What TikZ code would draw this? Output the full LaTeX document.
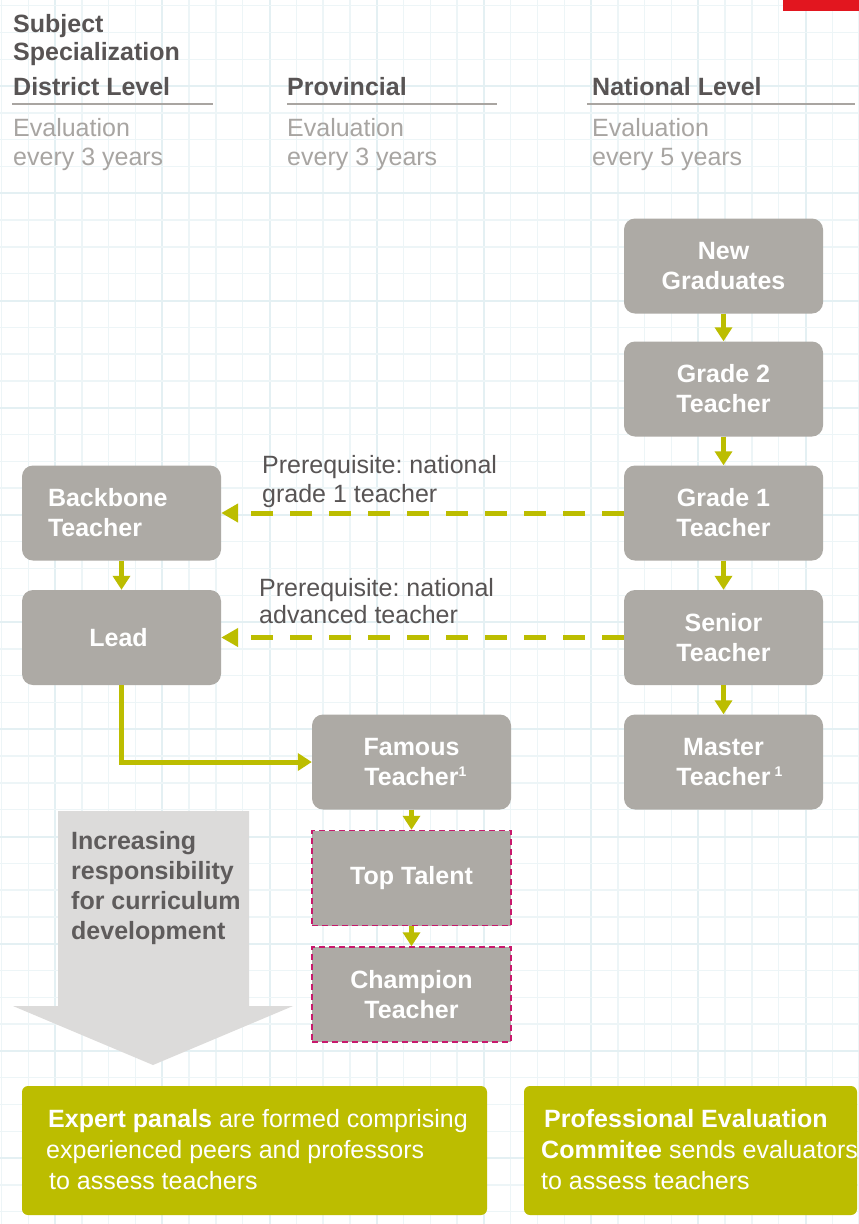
\documentclass[tikz,border=0pt]{standalone}
\usepackage{fontspec}
\setmainfont{Liberation Sans}
\usetikzlibrary{arrows.meta}
\definecolor{boxgray}{RGB}{173,170,165}
\definecolor{olivec}{RGB}{188,189,0}
\definecolor{darktxt}{RGB}{88,84,84}
\definecolor{arrtxt}{RGB}{95,92,92}
\definecolor{lighttxt}{RGB}{168,165,162}
\definecolor{rulegray}{RGB}{169,165,161}
\definecolor{magentab}{RGB}{200,24,108}
\definecolor{redc}{RGB}{226,22,31}
\definecolor{arrowgray}{RGB}{220,219,218}
\definecolor{gridc}{RGB}{237,245,247}
\definecolor{gridmaj}{RGB}{228,240,243}
\newcommand{\supone}{\raisebox{9pt}{\fontsize{14}{14}\selectfont 1}}
\frenchspacing
\begin{document}
\begin{tikzpicture}[x=1pt,y=-1pt,
  rankbox/.style={fill=boxgray, rounded corners=11pt, minimum width=199pt, minimum height=95pt,
    text=white, font=\bfseries\fontsize{25}{30}\selectfont, align=center, inner sep=0pt},
  dashbox/.style={rankbox, sharp corners, draw=magentab, line width=1.5pt, dash pattern=on 6pt off 4pt},
  flow/.style={draw=olivec, line width=5pt, -{Triangle[length=14pt,width=17pt]}},
  dflow/.style={draw=olivec, line width=5pt, dash pattern=on 22pt off 17pt, -{Triangle[length=17pt,width=18pt]}},
  hdr/.style={anchor=base west, inner sep=0pt, text=darktxt, font=\bfseries\fontsize{25}{30}\selectfont},
  evl/.style={anchor=base west, inner sep=0pt, text=lighttxt, font=\fontsize{25}{30}\selectfont},
  prq/.style={anchor=base west, inner sep=0pt, text=darktxt, font=\fontsize{25}{30}\selectfont},
  arrt/.style={anchor=base west, inner sep=0pt, text=arrtxt, font=\bfseries\fontsize{25}{30}\selectfont},
  botbox/.style={fill=olivec, rounded corners=6pt, minimum height=129pt, inner sep=0pt},
  bott/.style={anchor=base west, inner sep=0pt, text=white, font=\fontsize{25}{30}\selectfont},
  hrule/.style={draw=rulegray, line width=2pt}
]
\useasboundingbox (0,0) rectangle (859,1224);
\fill[white] (0,0) rectangle (859,1224);
% grid
\foreach \i in {0,...,32} {
  \pgfmathtruncatemacro{\m}{mod(\i,4)}
  \ifnum\m=2 \draw[gridmaj, line width=2pt] ({1.5+26.8*\i},0) -- ({1.5+26.8*\i},1224);
  \else \draw[gridc, line width=1.5pt] ({1.5+26.8*\i},0) -- ({1.5+26.8*\i},1224); \fi
}
\foreach \i in {0,...,45} {
  \pgfmathtruncatemacro{\m}{mod(\i,4)}
  \ifnum\m=3 \draw[gridmaj, line width=2pt] (0,{5.7+26.8*\i}) -- (859,{5.7+26.8*\i});
  \else \draw[gridc, line width=1.5pt] (0,{5.7+26.8*\i}) -- (859,{5.7+26.8*\i}); \fi
}
% red corner
\fill[redc] (783,0) rectangle (859,11);

% headers
\node[hdr] (h0) at (13,32) {Subject};
\node[hdr] (h1) at (13,60) {Specialization};
\node[hdr] (hd) at (13,95) {District Level};
\node[hdr] (hp) at (287,95) {Provincial};
\node[hdr] (hn) at (592,95) {National Level};
\draw[hrule] (12,104) -- (213,104);
\draw[hrule] (287,104) -- (497,104);
\draw[hrule] (587,104) -- (855,104);
\node[evl] (e1a) at (13,136) {Evaluation};
\node[evl] (e1b) at (13,165) {every 3 years};
\node[evl] (e2a) at (287,136) {Evaluation};
\node[evl] (e2b) at (287,165) {every 3 years};
\node[evl] (e3a) at (592,136) {Evaluation};
\node[evl] (e3b) at (592,165) {every 5 years};

% national column
\node[rankbox] (ng) at (723.5,266) {New\\Graduates};
\node[rankbox] (g2) at (723.5,389) {Grade 2\\Teacher};
\node[rankbox] (g1) at (723.5,513) {Grade 1\\Teacher};
\node[rankbox] (sr) at (723.5,637.5) {Senior\\Teacher};
\node[rankbox] (mt) at (723.5,762) {Master\\Teacher\rlap{\,\supone}};

% district column
\node[rankbox, text width=147pt, align=left] (bb) at (121.5,513) {Backbone\\Teacher};
\node[rankbox] (ld) at (121.5,637.5) {\hspace*{-6pt}Lead};

% provincial column
\node[rankbox] (ft) at (411.5,762) {Famous\\Teacher\rlap{\supone}};
\node[dashbox] (tt) at (411.5,878) {Top Talent};
\node[dashbox] (ct) at (411.5,994.5) {Champion\\Teacher};

% arrows
\draw[flow] (ng) -- (g2);
\draw[flow] (g2) -- (g1);
\draw[flow] (g1) -- (sr);
\draw[flow] (sr) -- (mt);
\draw[flow] (bb) -- (ld);
\draw[flow] (ft) -- (tt);
\draw[flow] (tt) -- (ct);
\draw[flow] (ld.south) |- (ft.west);
\draw[dflow] (g1.west) -- (bb.east);
\draw[dflow] (sr.west) -- (ld.east);

% prerequisite labels
\node[prq] (p1a) at (262,473) {Prerequisite: national};
\node[prq] (p1b) at (262,502) {grade 1 teacher};
\node[prq] (p2a) at (259,596) {Prerequisite: national};
\node[prq] (p2b) at (259,623) {advanced teacher};

% big arrow
\fill[arrowgray] (58,811) -- (249,811) -- (249,1006) -- (293,1006) -- (153,1065) -- (13,1006) -- (58,1006) -- cycle;
\node[arrt] (a1) at (71,849) {Increasing};
\node[arrt] (a2) at (71,879) {responsibility};
\node[arrt] (a3) at (71,909) {for curriculum};
\node[arrt] (a4) at (71,939) {development};

% bottom boxes
\node[botbox, minimum width=465pt] (bl) at (254.5,1150.5) {};
\node[botbox, minimum width=333pt] (br) at (690.5,1150.5) {};
\node[bott] (b1a) at (48,1127) {\textbf{Expert panals} are formed comprising};
\node[bott] (b1b) at (46,1158) {experienced peers and professors};
\node[bott] (b1c) at (49,1189) {to assess teachers};
\node[bott] (b2a) at (544,1127) {\textbf{Professional Evaluation}};
\node[bott] (b2b) at (541,1158) {\textbf{Commitee} sends evaluators};
\node[bott] (b2c) at (541,1189) {to assess teachers};
\end{tikzpicture}
\end{document}
